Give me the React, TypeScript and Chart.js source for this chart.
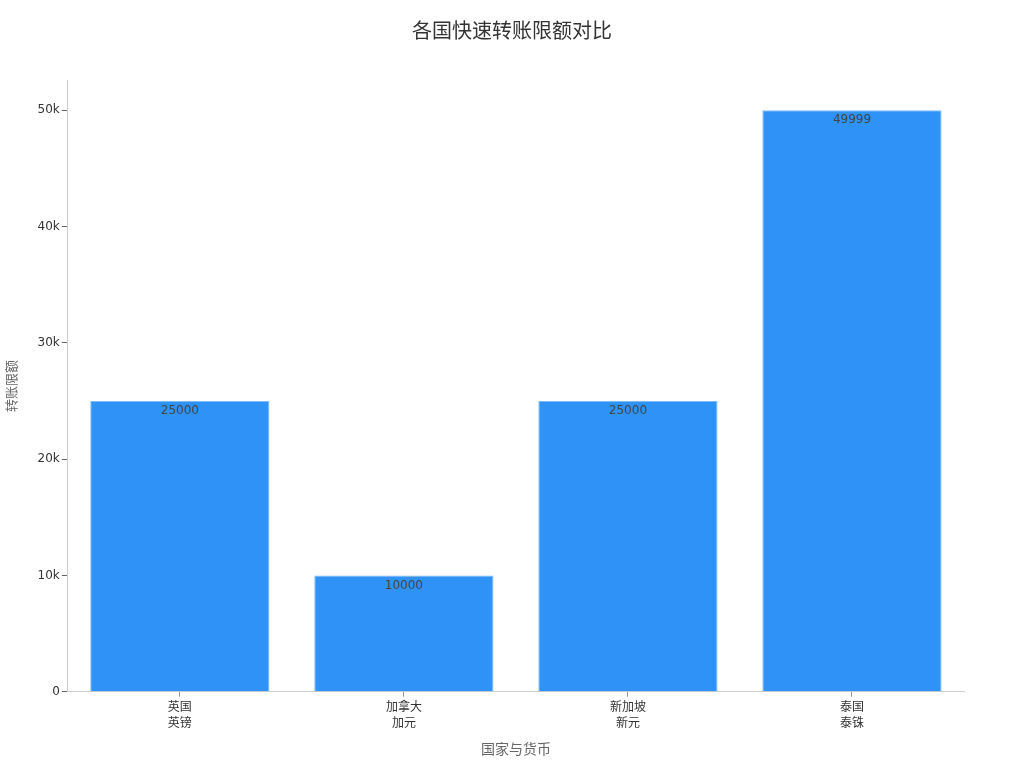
import React, { useRef, useEffect } from 'react';
import { Chart, registerables, Plugin } from 'chart.js';

Chart.register(...registerables);

const chartTitle = '各国快速转账限额对比';
const countries = ['英国', '加拿大', '新加坡', '泰国'];
const currencies = ['英镑', '加元', '新元', '泰铢'];
const limits = [25000, 10000, 25000, 49999];
const yTicks = [0, 10000, 20000, 30000, 40000, 50000];

const FONT = "'DejaVu Sans', 'Noto Sans CJK SC', sans-serif";

const barValueLabels: Plugin<'bar'> = {
    id: 'barValueLabels',
    afterDatasetsDraw(chart) {
        const ctx = chart.ctx;
        const meta = chart.getDatasetMeta(0);
        ctx.save();
        ctx.font = `12px ${FONT}`;
        ctx.fillStyle = '#444444';
        ctx.textAlign = 'center';
        ctx.textBaseline = 'top';
        meta.data.forEach((bar, i) => {
            const { x, y } = bar.getProps(['x', 'y'], true);
            ctx.fillText(String(limits[i]), x, y + 4);
        });
        ctx.restore();
    },
};

// title centred on the whole canvas, not on the padded chart box
const pageTitle: Plugin<'bar'> = {
    id: 'pageTitle',
    afterDraw(chart) {
        const ctx = chart.ctx;
        ctx.save();
        ctx.font = `20px ${FONT}`;
        ctx.fillStyle = '#333333';
        ctx.textAlign = 'center';
        ctx.textBaseline = 'middle';
        ctx.fillText(chartTitle, chart.width / 2, 33);
        ctx.restore();
    },
};

const App: React.FC = () => {
    const canvasRef = useRef<HTMLCanvasElement>(null);

    useEffect(() => {
        if (!canvasRef.current) return;
        const chart = new Chart(canvasRef.current, {
            type: 'bar',
            data: {
                labels: countries.map((c, i) => [c, currencies[i]]),
                datasets: [
                    {
                        label: '转账限额',
                        data: limits,
                        backgroundColor: '#2F92F7',
                        borderColor: '#7DBBF9',
                        borderWidth: 1,
                        barPercentage: 0.8,
                        categoryPercentage: 1.0,
                    },
                ],
            },
            options: {
                animation: false,
                responsive: true,
                maintainAspectRatio: false,
                layout: { padding: { top: 80, right: 60, bottom: 5, left: 1 } },
                plugins: {
                    legend: { display: false },
                    tooltip: { enabled: false },
                    title: { display: false },
                },
                scales: {
                    x: {
                        grid: {
                            display: true,
                            offset: false,
                            drawOnChartArea: false,
                            drawTicks: true,
                            tickLength: 5,
                            color: '#999999',
                        },
                        border: { display: true, color: '#cccccc' },
                        ticks: {
                            color: '#333333',
                            font: { family: FONT, size: 12, lineHeight: 1.35 },
                            padding: 3,
                        },
                        title: {
                            display: true,
                            text: '国家与货币',
                            color: '#666666',
                            font: { family: FONT, size: 14 },
                            padding: { top: 7 },
                        },
                    },
                    y: {
                        min: 0,
                        max: 52600,
                        afterBuildTicks: (axis) => {
                            axis.ticks = yTicks.map((v) => ({ value: v }));
                        },
                        grid: {
                            display: true,
                            drawOnChartArea: false,
                            drawTicks: true,
                            tickLength: 6,
                            color: '#666666',
                        },
                        border: { display: true, color: '#cccccc' },
                        ticks: {
                            color: '#333333',
                            font: { family: FONT, size: 12 },
                            padding: 2,
                            callback: (v) => (Number(v) === 0 ? '0' : `${Number(v) / 1000}k`),
                        },
                        title: {
                            display: true,
                            text: '转账限额',
                            color: '#666666',
                            font: { family: FONT, size: 13 },
                            padding: { bottom: 15 },
                        },
                    },
                },
            },
            plugins: [barValueLabels, pageTitle],
        });
        return () => chart.destroy();
    }, []);

    return (
        <div style={{ position: 'fixed', left: 0, top: 0, width: 1024, height: 768, background: '#ffffff' }}>
            <canvas ref={canvasRef}></canvas>
        </div>
    );
};

export default App;
